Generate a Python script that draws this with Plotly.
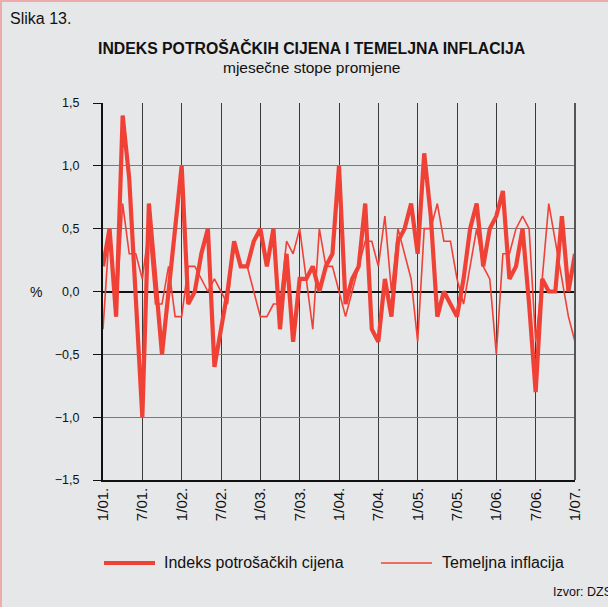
import plotly.graph_objects as go

# monthly rates of change, 1/2001 .. 1/2007
months = list(range(73))
tick_pos = list(range(0, 73, 6))
tick_labels = ["1/01.", "7/01.", "1/02.", "7/02.", "1/03.", "7/03.", "1/04.",
               "7/04.", "1/05.", "7/05.", "1/06.", "7/06.", "1/07."]

cpi = [0.2, 0.5, -0.2, 1.4, 0.9, 0.0, -1.0, 0.7, 0.1, -0.5, 0.0, 0.5,
       1.0, -0.1, 0.0, 0.3, 0.5, -0.6, -0.3, 0.0, 0.4, 0.2, 0.2, 0.4,
       0.5, 0.2, 0.5, -0.3, 0.3, -0.4, 0.1, 0.1, 0.2, 0.0, 0.2, 0.3,
       1.0, -0.1, 0.1, 0.2, 0.7, -0.3, -0.4, 0.1, -0.2, 0.4, 0.5, 0.7,
       0.3, 1.1, 0.6, -0.2, 0.0, -0.1, -0.2, 0.1, 0.5, 0.7, 0.2, 0.5,
       0.6, 0.8, 0.1, 0.2, 0.5, -0.1, -0.8, 0.1, 0.0, 0.0, 0.6, 0.0,
       0.3]

core = [-0.3, 0.5, -0.2, 0.7, 0.3, 0.3, 0.1, 0.5, -0.1, -0.1, 0.2, -0.2,
        -0.2, 0.2, 0.2, 0.1, 0.0, 0.1, 0.0, -0.1, 0.4, 0.2, 0.2, 0.0,
        -0.2, -0.2, -0.1, -0.1, 0.4, 0.3, 0.5, 0.1, -0.3, 0.5, 0.2, 0.2,
        0.0, -0.2, 0.0, 0.2, 0.4, 0.4, 0.2, 0.6, 0.0, 0.5, 0.3, 0.1,
        -0.4, 0.5, 0.5, 0.7, 0.4, 0.4, 0.1, -0.1, 0.2, 0.5, 0.2, 0.1,
        -0.5, 0.3, 0.3, 0.5, 0.6, 0.5, -0.4, 0.1, 0.7, 0.4, 0.1, -0.2,
        -0.4]

RED = "#f04137"
BG = "#e6e7e8"
FONT = "Liberation Sans, Arial, sans-serif"

# plot area in pixels (used for placing text in paper coords)
L, R, T, B = 103, 33, 103, 127
W, H = 608, 607
PW, PH = W - L - R, H - T - B


def px(x):
    return (x - L) / PW


def py(y):
    return (H - B - y) / PH


fig = go.Figure()
fig.add_trace(go.Scatter(x=months, y=core, mode="lines",
                         line=dict(color=RED, width=1.6), name="Temeljna inflacija"))
fig.add_trace(go.Scatter(x=months, y=cpi, mode="lines",
                         line=dict(color=RED, width=4.2), name="Indeks potrošačkih cijena"))

fig.update_xaxes(range=[0, 72], tickvals=tick_pos, ticktext=tick_labels, tickangle=-90,
                 showgrid=True, gridcolor="#3a3a3a", gridwidth=1,
                 showline=True, linecolor="#111", linewidth=1.5,
                 ticks="", zeroline=False,
                 tickfont=dict(family=FONT, size=15, color="#111"))
fig.update_yaxes(range=[-1.5, 1.5], dtick=0.5, tickformat=".1f",
                 showgrid=True, gridcolor="#7a7a7a", gridwidth=1.3,
                 zeroline=True, zerolinecolor="#111", zerolinewidth=2.2,
                 showline=True, linecolor="#111", linewidth=2,
                 ticks="outside", ticklen=8, tickcolor="#111", tickwidth=1.3,
                 ticklabelstandoff=11,
                 tickfont=dict(family=FONT, size=12.5, color="#111"))

ann = [
    dict(text="Slika 13.", x=px(8), y=py(18), xanchor="left", font=dict(size=16)),
    dict(text="<b>INDEKS POTROŠAČKIH CIJENA I TEMELJNA INFLACIJA</b>", x=px(311), y=py(48),
         font=dict(size=15.8)),
    dict(text="mjesečne stope promjene", x=px(312), y=py(67), font=dict(size=15.5)),
    dict(text="%", x=px(36), y=py(292), font=dict(size=14)),
    dict(text="Indeks potrošačkih cijena", x=px(162), y=py(562), xanchor="left",
         font=dict(size=16)),
    dict(text="Temeljna inflacija", x=px(440), y=py(562), xanchor="left",
         font=dict(size=16)),
    dict(text="Izvor: DZS", x=px(551), y=py(592), xanchor="left", font=dict(size=12.5)),
]
for a in ann:
    a.update(xref="paper", yref="paper", showarrow=False, yanchor="middle")
    a.setdefault("xanchor", "center")
    a["font"].update(family=FONT, color="#111")

shapes = [
    # legend samples
    dict(type="line", x0=px(104), x1=px(155), y0=py(563), y1=py(563),
         line=dict(color=RED, width=4.2)),
    dict(type="line", x0=px(381), x1=px(432), y0=py(563), y1=py(563),
         line=dict(color=RED, width=1.6)),
    # right edge of plot frame
    dict(type="line", x0=1, x1=1, y0=0, y1=1, line=dict(color="#555", width=2)),
    # outer frame
    dict(type="rect", x0=px(1), x1=px(700), y0=py(700), y1=py(1),
         line=dict(color="#f09898", width=1.5)),
]
for s in shapes:
    s.update(xref="paper", yref="paper")

fig.update_layout(
    width=W, height=H,
    margin=dict(l=L, r=R, t=T, b=B),
    paper_bgcolor=BG, plot_bgcolor=BG,
    separators=", ",
    showlegend=False,
    annotations=ann,
    shapes=shapes,
    font=dict(family=FONT, color="#111"),
)

# drop the page's default body margin so the figure sits at the window corner
fig.write_html("out.html", config={"displayModeBar": False},
               post_script="document.body.style.margin='0px';")
